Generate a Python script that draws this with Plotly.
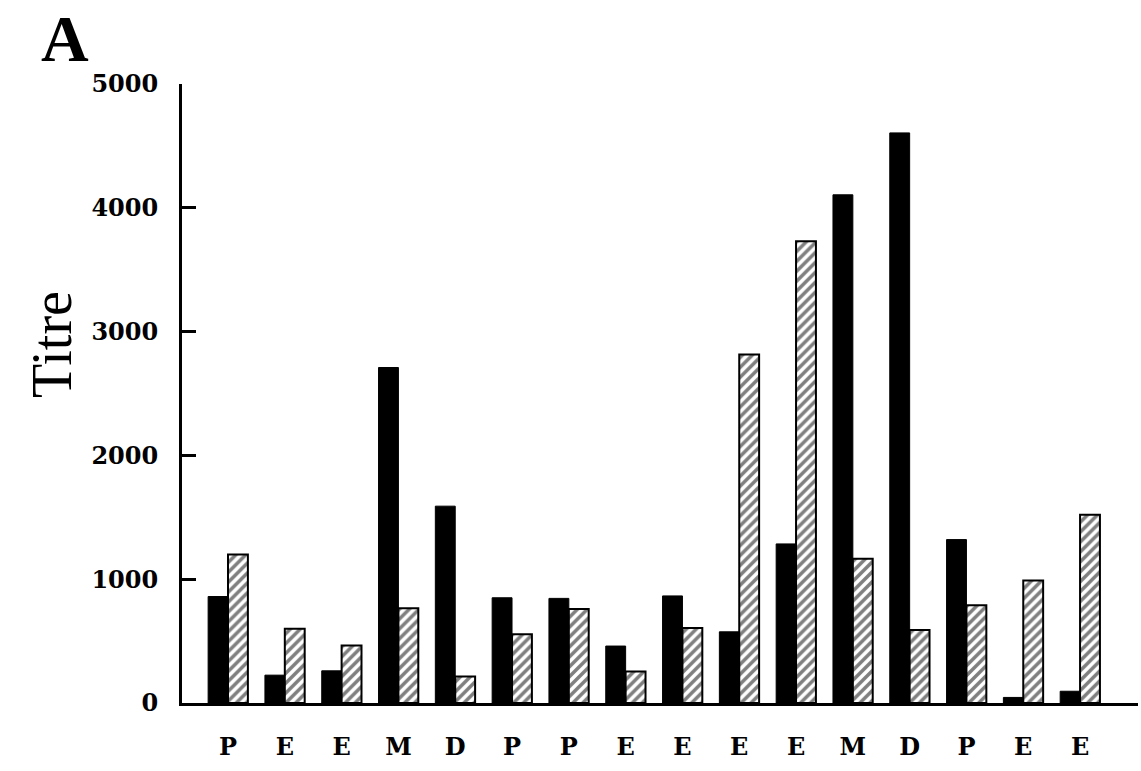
import plotly.graph_objects as go

categories = ["P", "E", "E", "M", "D", "P", "P", "E", "E", "E", "E", "M", "D", "P", "E", "E"]
black_values = [860, 225, 260, 2710, 1590, 850, 845, 460, 865, 575, 1285, 4105, 4605, 1320, 45, 95]
hatched_values = [1200, 600, 465, 765, 215, 555, 760, 255, 605, 2815, 3730, 1165, 590, 790, 990, 1520]
y_ticks = [0, 1000, 2000, 3000, 4000, 5000]

x_pos = list(range(len(categories)))

fig = go.Figure()
fig.add_trace(go.Bar(
    x=x_pos, y=black_values, name="black",
    marker=dict(color="black", line=dict(color="black", width=1)),
))
fig.add_trace(go.Bar(
    x=x_pos, y=hatched_values, name="hatched",
    marker=dict(color="white", line=dict(color="black", width=2),
                pattern=dict(shape="/", fgcolor="black", bgcolor="white",
                             size=7, solidity=0.5)),
))

tick_font = dict(family="DejaVu Serif", size=24, color="black", weight="bold")

fig.update_layout(
    width=1141, height=771,
    margin=dict(l=182, r=3, t=84, b=68),
    paper_bgcolor="white", plot_bgcolor="white",
    barmode="group", bargap=0.3, bargroupgap=0,
    showlegend=False,
    xaxis=dict(
        range=[-0.81, 16.02], tickmode="array", tickvals=x_pos, ticktext=categories,
        showline=True, linecolor="black", linewidth=3, ticks="",
        showgrid=False, zeroline=False, tickfont=tick_font, ticklabelstandoff=20,
    ),
    yaxis=dict(
        range=[0, 5000], tickmode="array", tickvals=y_ticks,
        ticktext=[str(v) for v in y_ticks],
        showline=True, linecolor="black", linewidth=3, ticks="inside",
        ticklen=14, tickwidth=3, tickcolor="black",
        showgrid=False, zeroline=False, tickfont=tick_font, ticklabelstandoff=16,
    ),
    annotations=[
        dict(text="Titre", xref="paper", yref="paper", x=-0.136, y=0.58,
             showarrow=False, textangle=-90,
             font=dict(family="Liberation Serif", size=56, color="black"),
             xanchor="center", yanchor="middle"),
        dict(text="A", xref="paper", yref="paper", x=-0.122, y=84 / 619 + 1,
             showarrow=False,
             font=dict(family="Liberation Serif", size=66, color="black", weight="bold"),
             xanchor="center", yanchor="top"),
    ],
)

fig.write_html("out.html")
